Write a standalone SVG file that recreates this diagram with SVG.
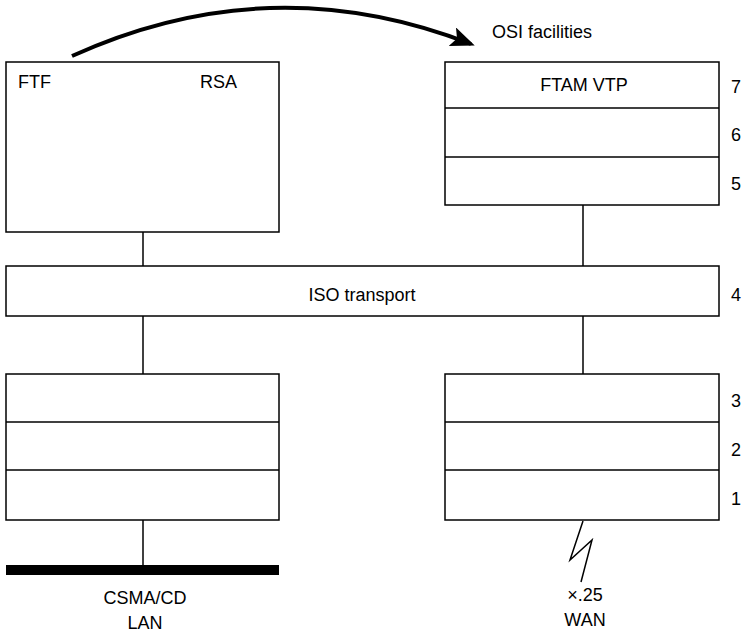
<svg xmlns="http://www.w3.org/2000/svg" width="747" height="643" viewBox="0 0 747 643">
<style>
.box{fill:#fff;stroke:#000;stroke-width:1.5}
.ln{stroke:#000;stroke-width:1.5;fill:none}
text{font-family:"Liberation Sans",Arial,sans-serif;font-size:18px;fill:#000}
.c{text-anchor:middle}
</style>
<defs>
<marker id="ah" markerWidth="24" markerHeight="20" refX="20" refY="10" orient="auto" markerUnits="userSpaceOnUse" viewBox="0 0 24 20">
<path d="M0,0 L24,10 L0,20 L5,10 z" fill="#000"/>
</marker>
</defs>
<g id="connectors">
<path class="ln" d="M72,56 Q270,-34 471,44" style="stroke-width:4" marker-end="url(#ah)"/>
<line class="ln" x1="143" y1="232" x2="143" y2="266"/>
<line class="ln" x1="583" y1="205" x2="583" y2="266"/>
<line class="ln" x1="143" y1="316" x2="143" y2="374"/>
<line class="ln" x1="583" y1="316" x2="583" y2="374"/>
<line class="ln" x1="143" y1="520" x2="143" y2="567"/>
<polyline class="ln" points="583,521 570,560 592,540 581,582"/>
</g>
<g id="node-left-app">
<rect class="box" x="6" y="62" width="273" height="170"/>
<text x="18" y="88">FTF</text>
<text x="200" y="88">RSA</text>
</g>
<g id="node-osi">
<text class="c" x="542" y="38">OSI facilities</text>
<rect class="box" x="445" y="62" width="274" height="143"/>
<line class="ln" x1="445" y1="108" x2="719" y2="108"/>
<line class="ln" x1="445" y1="157" x2="719" y2="157"/>
<text class="c" x="584" y="91">FTAM VTP</text>
<text x="731" y="93">7</text>
<text x="731" y="141">6</text>
<text x="731" y="190">5</text>
</g>
<g id="node-iso">
<rect class="box" x="6" y="266" width="713" height="50"/>
<text class="c" x="362" y="301">ISO transport</text>
<text x="731" y="301">4</text>
</g>
<g id="node-left-lower">
<rect class="box" x="6" y="374" width="273" height="146"/>
<line class="ln" x1="6" y1="422" x2="279" y2="422"/>
<line class="ln" x1="6" y1="470" x2="279" y2="470"/>
</g>
<g id="node-right-lower">
<rect class="box" x="445" y="374" width="274" height="146"/>
<line class="ln" x1="445" y1="422" x2="719" y2="422"/>
<line class="ln" x1="445" y1="470" x2="719" y2="470"/>
<text x="731" y="407">3</text>
<text x="731" y="456">2</text>
<text x="731" y="505">1</text>
</g>
<g id="node-lan">
<rect x="6" y="565" width="273" height="10" fill="#000"/>
<text class="c" x="145" y="604">CSMA/CD</text>
<text class="c" x="145" y="629">LAN</text>
</g>
<g id="node-wan">
<text class="c" x="585" y="601">×.25</text>
<text class="c" x="585" y="626">WAN</text>
</g>
</svg>
